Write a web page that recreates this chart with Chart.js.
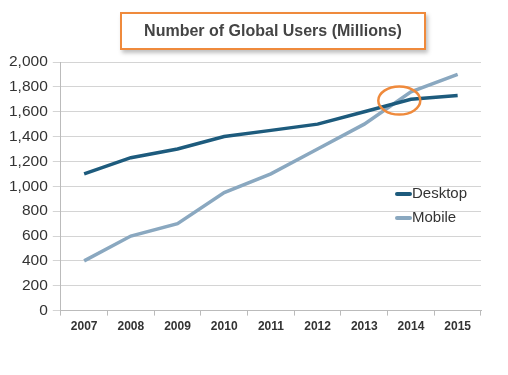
<!DOCTYPE html>
<html>
<head>
<meta charset="utf-8">
<script src="https://cdn.jsdelivr.net/npm/chart.js@4.4.0/dist/chart.umd.min.js"></script>
<style>
  html, body { margin: 0; padding: 0; background: #fff; }
  #wrap { position: relative; width: 508px; height: 375px; }
  #title {
    position: absolute; left: 120px; top: 12px; width: 302px; height: 34px;
    border: 2px solid #ef8a3c; box-shadow: 2px 3px 4px rgba(0,0,0,0.25);
    background: #fff; font: bold 16px "Liberation Sans", Arial, sans-serif;
    color: #444; text-align: center; line-height: 34px;
  }
  .leg { position: absolute; left: 395px; font: 15px "Liberation Sans", Arial, sans-serif; color: #333; }
  .leg span { display: inline-block; width: 17px; height: 4px; border-radius: 2px; vertical-align: middle; }
</style>
</head>
<body>
<div id="wrap">
  <canvas id="chart" width="508" height="375"></canvas>
  <div id="title">Number of Global Users (Millions)</div>
  <div class="leg" style="top:184px"><span style="background:#1d5b7d"></span>Desktop</div>
  <div class="leg" style="top:208px"><span style="background:#8aa8c0"></span>Mobile</div>
</div>
<script>
const years = ["2007", "2008", "2009", "2010", "2011", "2012", "2013", "2014", "2015"];
const desktop = [1100, 1230, 1300, 1400, 1450, 1500, 1600, 1700, 1730];
const mobile = [400, 600, 700, 950, 1100, 1300, 1500, 1760, 1900];

// orange ring marking where mobile overtakes desktop
const ringPlugin = {
  id: "ring",
  afterDatasetsDraw(chart) {
    const { ctx, scales } = chart;
    const cx = scales.x.getPixelForValue(6.75);
    const cy = scales.y.getPixelForValue(1690);
    ctx.save();
    ctx.strokeStyle = "#ef8a3c";
    ctx.lineWidth = 2.5;
    ctx.beginPath();
    ctx.ellipse(cx, cy, 21, 14, 0, 0, Math.PI * 2);
    ctx.stroke();
    ctx.restore();
  }
};

const ctx = document.getElementById("chart").getContext("2d");
new Chart(ctx, {
  type: "line",
  data: {
    labels: years,
    datasets: [
      { label: "Desktop", data: desktop, borderColor: "#1d5b7d", borderWidth: 3.5, pointRadius: 0, tension: 0 },
      { label: "Mobile", data: mobile, borderColor: "#8aa8c0", borderWidth: 3.5, pointRadius: 0, tension: 0 }
    ]
  },
  options: {
    responsive: false,
    animation: false,
    layout: { padding: { left: 4, top: 62, right: 27, bottom: 37 } },
    plugins: { legend: { display: false }, tooltip: { enabled: false } },
    scales: {
      x: {
        offset: true,
        grid: { offset: true, drawOnChartArea: false, tickLength: 5, color: "#bbb" },
        border: { color: "#bbb" },
        ticks: { color: "#333", font: { family: "Liberation Sans", size: 12, weight: "bold" }, padding: 4 }
      },
      y: {
        min: 0, max: 2000,
        ticks: { stepSize: 200, color: "#333", font: { family: "Liberation Sans", size: 15.5 }, padding: 5,
          callback: v => v.toLocaleString("en-US") },
        grid: { color: "#d4d4d4", tickLength: 8 },
        border: { color: "#bbb" }
      }
    }
  },
  plugins: [ringPlugin]
});
</script>
</body>
</html>
